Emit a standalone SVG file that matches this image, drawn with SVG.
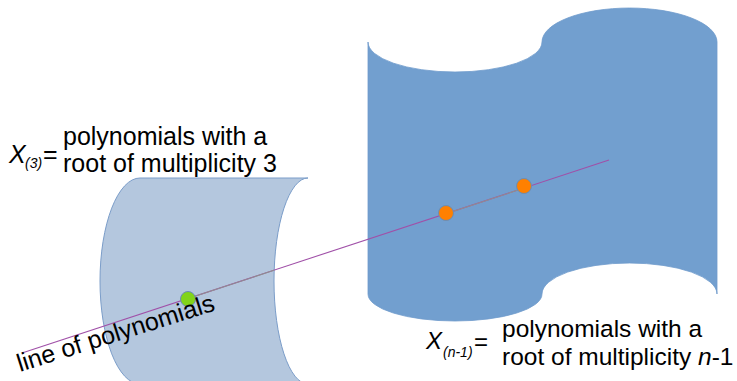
<svg xmlns="http://www.w3.org/2000/svg" width="737" height="381" viewBox="0 0 737 381">
<style>
.t{font-family:"Liberation Sans",Arial,sans-serif;fill:#000}
.it{font-style:italic}
.dot{stroke:#6b8db5;stroke-width:1}
</style>
<rect width="737" height="381" fill="#fff"/>
<g id="cylinder3">
<path d="M140 178 L308 178 A34 103 0 0 0 308 384 L140 384 A40 103 0 0 1 140 178 Z" fill="#b4c7de" stroke="#7b9dc9" stroke-width="1"/>
</g>
<g id="surfaceN1">
<path d="M368 42 A87 30 0 0 0 542 42 A87.5 34 0 0 1 717 42 L717 294 A87.5 31 0 0 0 542 294 A87 27 0 0 1 368 294 Z" fill="#729fcf" stroke="#6e9bcb" stroke-width="0.8"/>
</g>
<g id="connectors">
<line x1="22" y1="353" x2="609" y2="160" stroke="#a050a8" stroke-width="1.1"/>
<line x1="188" y1="298.6" x2="274" y2="270.3" stroke="#8f8f8f" stroke-width="1.1"/>
<line x1="446" y1="213.8" x2="524" y2="188.1" stroke="#8f8f8f" stroke-width="1.1"/>
</g>
<g id="pointGreen"><circle class="dot" cx="188" cy="299" r="7.5" fill="#81d41a"/></g>
<g id="pointOrange1"><circle class="dot" cx="446" cy="213" r="7.5" fill="#ff8000"/></g>
<g id="pointOrange2"><circle class="dot" cx="524" cy="186" r="7.5" fill="#ff8000"/></g>
<g id="label3">
<text class="t it" x="9" y="163" font-size="25">X</text>
<text class="t it" x="25" y="168" font-size="14">(3)</text>
<text class="t" x="43" y="163" font-size="25">=</text>
<text class="t" x="63" y="145" font-size="25">polynomials with a</text>
<text class="t" x="63" y="172" font-size="25">root of multiplicity 3</text>
</g>
<g id="labelN1">
<text class="t it" x="426" y="349" font-size="24">X</text>
<text class="t it" x="443" y="357" font-size="14">(n-1)</text>
<text class="t" x="474" y="350" font-size="24">=</text>
<text class="t" x="502" y="337" font-size="24.5">polynomials with a</text>
<text class="t" x="502" y="365" font-size="24.5">root of multiplicity <tspan class="it">n</tspan>-1</text>
</g>
<g id="lineLabel">
<text class="t" x="20" y="372" font-size="25" transform="rotate(-17.5 20 372)">line of polynomials</text>
</g>
</svg>
